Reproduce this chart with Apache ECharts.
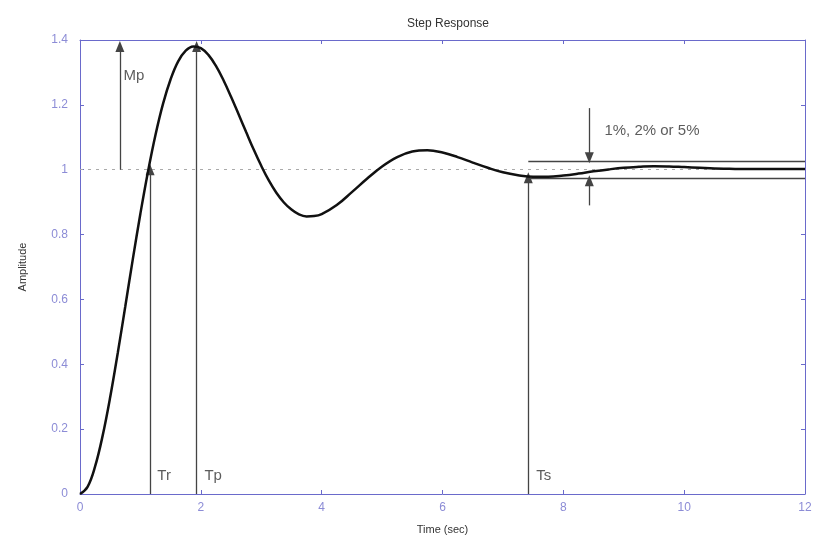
<!DOCTYPE html>
<html><head><meta charset="utf-8">
<script src="https://cdn.jsdelivr.net/npm/echarts@6/dist/echarts.min.js"></script>
<style>html,body{margin:0;padding:0;background:#fff}#c{width:816px;height:542px}</style>
</head><body><div id="c"></div>
<script>
// Time samples (sec) and read step-response amplitudes
const times = [0,0.125,0.25,0.375,0.5,0.625,0.75,0.875,1,1.125,1.25,1.375,1.5,1.625,1.75,1.875,2,2.125,2.25,2.375,2.5,2.625,2.75,2.875,3,3.125,3.25,3.375,3.5,3.625,3.75,3.875,4,4.25,4.5,4.75,5,5.25,5.5,5.75,6,6.25,6.5,6.75,7,7.25,7.5,7.75,8,8.25,8.5,8.75,9,9.25,9.5,9.75,10,10.25,10.5,10.75,11,11.25,11.5,11.75,12];
const amplitude = [0,0.022,0.085,0.180,0.299,0.435,0.579,0.725,0.865,0.994,1.108,1.204,1.279,1.334,1.367,1.380,1.375,1.354,1.320,1.276,1.225,1.171,1.116,1.062,1.012,0.967,0.929,0.899,0.877,0.862,0.856,0.857,0.863,0.891,0.931,0.972,1.010,1.039,1.056,1.060,1.053,1.039,1.022,1.006,0.992,0.983,0.978,0.978,0.982,0.988,0.995,1.001,1.006,1.009,1.011,1.010,1.008,1.006,1.004,1.003,1.002,1.002,1.002,1.002,1.002];
const xTicks = [0,2,4,6,8,10,12];
const yTicks = [0,0.2,0.4,0.6,0.8,1,1.2,1.4];
// annotation values
const mpT = 0.66, peakT = 1.93, peakY = 1.38, riseT = 1.16, settleT = 7.42, settleY = 0.975;
const bandUpper = 1.027, bandLower = 0.974, bandArrowT = 8.43;
const labels = [
  {name:'Mp', t:0.72, y:1.29},
  {name:'Tr', t:1.28, y:0.055},
  {name:'Tp', t:2.06, y:0.055},
  {name:'Ts', t:7.55, y:0.055},
  {name:'1%, 2% or 5%', t:8.68, y:1.12}
];

const axisCol = '#6a6acb', labCol = '#8c8cd6';
const chart = echarts.init(document.getElementById('c'));
const arrowLine = (t0,y0,t1,y1)=>[{coord:[t0,y0]},{coord:[t1,y1]}];
const tickStyle = {inside:true,length:4,lineStyle:{color:axisCol}};
chart.setOption({
  animation:false,
  title:{text:'Step Response',left:443,top:13,textAlign:'center',textStyle:{fontSize:12,fontWeight:'normal',color:'#333',fontFamily:'Liberation Sans'}},
  grid:{left:80,right:11,top:40,bottom:48},
  xAxis:[{type:'value',min:0,max:12,interval:2,
    name:'Time (sec)',nameLocation:'middle',nameGap:30,nameTextStyle:{color:'#333',fontSize:11,fontFamily:'Liberation Sans'},
    axisLine:{onZero:false,lineStyle:{color:axisCol}},axisTick:tickStyle,
    axisLabel:{color:labCol,fontSize:12,margin:8,fontFamily:'Liberation Sans',formatter:v=>xTicks.includes(v)?String(v):''},splitLine:{show:false}},
    {type:'value',min:0,max:12,interval:2,position:'top',axisLine:{show:true,onZero:false,lineStyle:{color:axisCol}},
    axisTick:tickStyle,axisLabel:{show:false},splitLine:{show:false}}],
  yAxis:[{type:'value',min:0,max:1.4,interval:0.2,
    name:'Amplitude',nameLocation:'middle',nameGap:52,nameRotate:90,nameTextStyle:{color:'#333',fontSize:11,fontFamily:'Liberation Sans'},
    axisLine:{show:true,onZero:false,lineStyle:{color:axisCol}},axisTick:{show:true,...tickStyle},
    axisLabel:{color:labCol,fontSize:12,margin:12,fontFamily:'Liberation Sans',formatter:v=>{const r=+v.toFixed(1);return yTicks.includes(r)?String(r):'';}},splitLine:{show:false}},
    {type:'value',min:0,max:1.4,interval:0.2,position:'right',axisLine:{show:true,onZero:false,lineStyle:{color:axisCol}},
    axisTick:{show:true,...tickStyle},axisLabel:{show:false},splitLine:{show:false}}],
  series:[
    {type:'line',data:times.map((t,i)=>[t,amplitude[i]]),smooth:0.4,showSymbol:false,
     lineStyle:{color:'#111',width:2.5},z:5,
     markLine:{silent:true,symbol:['none','none'],label:{show:false},
       lineStyle:{color:'#aaa',type:[3,5],width:1},
       data:[arrowLine(0,1,12,1)]}},
    {type:'line',data:[],markLine:{silent:true,symbol:['none','triangle'],symbolSize:[9,11],label:{show:false},
       lineStyle:{color:'#444',type:'solid',width:1.3},itemStyle:{color:'#111'},
       data:[arrowLine(mpT,1,mpT,peakY),arrowLine(riseT,0,riseT,1),arrowLine(peakT,0,peakT,peakY),
             arrowLine(settleT,0,settleT,settleY),
             arrowLine(bandArrowT,1.19,bandArrowT,bandUpper+0.01),arrowLine(bandArrowT,0.89,bandArrowT,bandLower-0.008)]},z:4},
    {type:'line',data:[],markLine:{silent:true,symbol:['none','none'],label:{show:false},
       lineStyle:{color:'#444',type:'solid',width:1.3},
       data:[arrowLine(settleT,bandUpper,12,bandUpper),arrowLine(settleT,bandLower,12,bandLower)]},z:4},
    {type:'scatter',symbolSize:0,data:labels.map(l=>({name:l.name,value:[l.t,l.y]})),
     label:{show:true,position:'right',distance:0,formatter:p=>p.name,color:'#333',fontSize:15,fontFamily:'Liberation Sans'},z:6}
  ]
});
</script></body></html>
